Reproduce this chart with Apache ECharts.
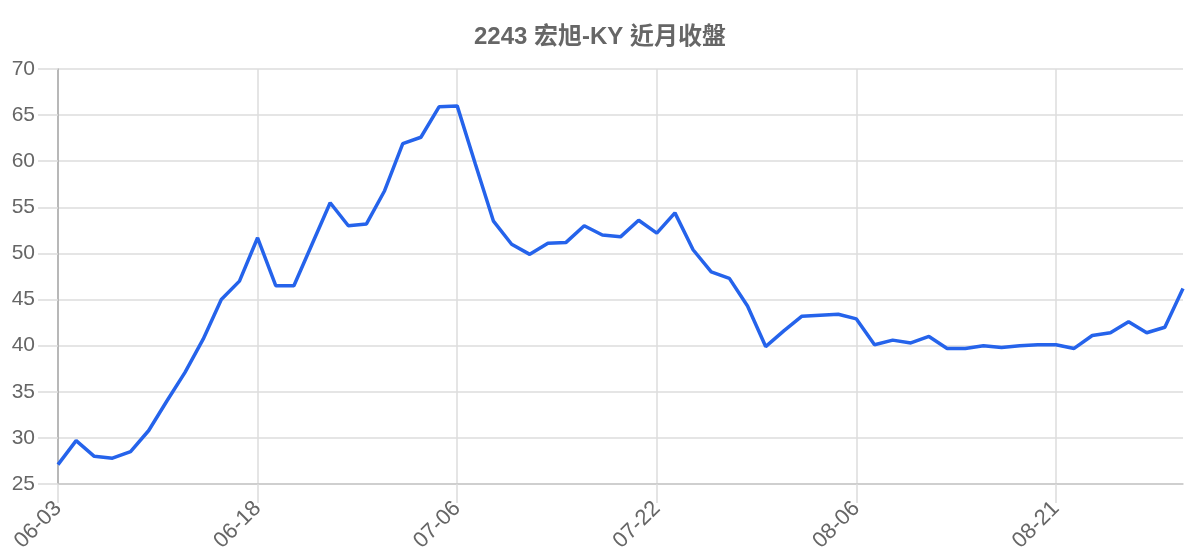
<!DOCTYPE html>
<html>
<head>
<meta charset="utf-8">
<script src="https://cdn.jsdelivr.net/npm/echarts@6/dist/echarts.min.js"></script>
<style>
html,body{margin:0;padding:0;background:#fff;}
#chart{width:1200px;height:560px;}
</style>
</head>
<body>
<div id="chart"></div>
<script>
const titleText = '2243 宏旭-KY 近月收盤';
const dates = ['06-03','06-04','06-05','06-08','06-09','06-10','06-11','06-12','06-15','06-16',
  '06-17','06-18','06-22','06-23','06-24','06-25','06-26','06-29','06-30','07-01',
  '07-02','07-03','07-06','07-07','07-08','07-09','07-10','07-13','07-14','07-15',
  '07-16','07-17','07-20','07-22','07-23','07-24','07-27','07-28','07-29','07-30',
  '07-31','08-03','08-04','08-05','08-06','08-07','08-10','08-11','08-12','08-13',
  '08-14','08-17','08-18','08-19','08-20','08-21','08-24','08-25','08-26','08-27',
  '08-28','08-31','09-01'];
const closes = [27.1, 29.7, 28.0, 27.8, 28.5, 30.8, 34.0, 37.1, 40.7, 45.0,
  47.0, 51.7, 46.5, 46.5, 51.0, 55.5, 53.0, 53.2, 56.8, 61.9,
  62.6, 65.9, 66.0, 59.7, 53.5, 51.0, 49.9, 51.1, 51.2, 53.0,
  52.0, 51.8, 53.6, 52.2, 54.4, 50.4, 48.0, 47.3, 44.3, 39.9,
  41.6, 43.2, 43.3, 43.4, 42.9, 40.1, 40.6, 40.3, 41.0, 39.7,
  39.7, 40.0, 39.8, 40.0, 40.1, 40.1, 39.7, 41.1, 41.4, 42.6,
  41.4, 42.0, 46.2];
const yMin = 25, yMax = 70, yStep = 5;

const FONT = "'Liberation Sans', Arial, 'Noto Sans CJK TC', sans-serif";
const chart = echarts.init(document.getElementById('chart'), null, {renderer: 'canvas'});
chart.setOption({
  animation: false,
  backgroundColor: '#ffffff',
  title: {
    text: titleText,
    left: 'center',
    top: 20,
    textStyle: {fontFamily: FONT, fontSize: 24, fontWeight: 'bold', color: '#666666'}
  },
  grid: {left: 58, right: 17, top: 69, bottom: 76, containLabel: false},
  xAxis: {
    type: 'category',
    data: dates,
    boundaryGap: false,
    axisLine: {show: true, lineStyle: {color: '#c8c8c8', width: 1.5}},
    axisTick: {show: true, interval: 10, length: 19, lineStyle: {color: '#dcdcdc', width: 1.5}},
    splitLine: {show: true, interval: 10, lineStyle: {color: '#dcdcdc', width: 1.5}},
    axisLabel: {
      interval: 10, rotate: 45, margin: 21,
      fontFamily: FONT, fontSize: 22, color: '#666666'
    }
  },
  yAxis: {
    type: 'value',
    min: yMin, max: yMax, interval: yStep,
    axisLine: {show: true, lineStyle: {color: '#a8a8a8', width: 1.5}},
    axisTick: {show: true, length: 20, lineStyle: {color: '#dcdcdc', width: 1.5}},
    splitLine: {show: true, lineStyle: {color: '#dcdcdc', width: 1.5}},
    axisLabel: {margin: 23, fontFamily: FONT, fontSize: 21, color: '#666666'}
  },
  series: [{
    type: 'line',
    data: closes,
    showSymbol: false,
    symbol: 'none',
    lineStyle: {color: '#2563eb', width: 3.5},
    itemStyle: {color: '#2563eb'}
  }]
});
</script>
</body>
</html>
